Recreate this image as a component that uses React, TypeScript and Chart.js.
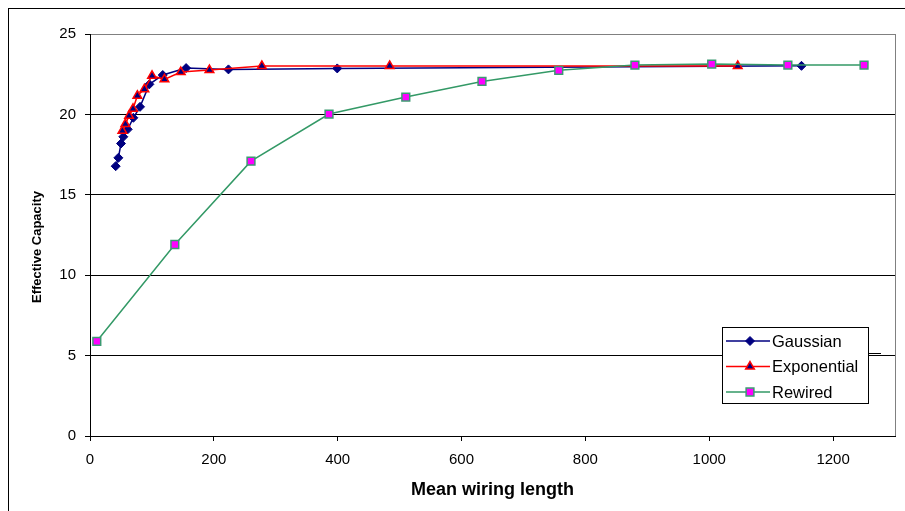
import React, { useEffect, useRef } from 'react';
import { Chart, registerables } from 'chart.js';

Chart.register(...registerables);

// ---- Data ----
const gaussianX = [41.5, 45.8, 50.1, 53.8, 60.9, 70.0, 80.8, 95.9, 117.5, 155.2, 223.6, 399.3, 1149];
const gaussianY = [16.78, 17.3, 18.19, 18.61, 19.07, 19.79, 20.47, 21.87, 22.45, 22.88, 22.8, 22.86, 23.02];

const exponentialX = [52.3, 57.1, 63.1, 69.5, 76.5, 87.8, 100.2, 120.2, 146.6, 192.9, 277.5, 483.9, 1046];
const exponentialY = [18.98, 19.4, 19.91, 20.35, 21.16, 21.57, 22.4, 22.18, 22.63, 22.76, 23.01, 23.01, 23.01];

const rewiredX = [11, 137, 260, 386, 510, 633, 757, 880, 1004, 1127, 1250];
const rewiredY = [5.89, 11.91, 17.09, 20.02, 21.08, 22.05, 22.74, 23.07, 23.13, 23.07, 23.07];

const seriesNames = ['Gaussian', 'Exponential', 'Rewired'];
const xTickValues = [0, 200, 400, 600, 800, 1000, 1200];
const yTickValues = [0, 5, 10, 15, 20, 25];
const xTitle = 'Mean wiring length';
const yTitle = 'Effective Capacity';

const FONT = '"Liberation Sans", Arial, Helvetica, sans-serif';

const toPoints = (xs: number[], ys: number[]) => xs.map((x, i) => ({ x, y: ys[i] }));

function drawMarker(
  ctx: CanvasRenderingContext2D,
  style: string,
  x: number,
  y: number,
  r: number,
  fill: string,
  stroke: string,
  lw: number
) {
  ctx.beginPath();
  if (style === 'rectRot') {
    ctx.moveTo(x - r, y);
    ctx.lineTo(x, y - r);
    ctx.lineTo(x + r, y);
    ctx.lineTo(x, y + r);
  } else if (style === 'triangle') {
    let a = 0;
    ctx.moveTo(x + Math.sin(a) * r, y - Math.cos(a) * r);
    a += (2 * Math.PI) / 3;
    ctx.lineTo(x + Math.sin(a) * r, y - Math.cos(a) * r);
    a += (2 * Math.PI) / 3;
    ctx.lineTo(x + Math.sin(a) * r, y - Math.cos(a) * r);
  } else {
    const s = Math.SQRT1_2 * r;
    ctx.rect(x - s, y - s, 2 * s, 2 * s);
  }
  ctx.closePath();
  ctx.fillStyle = fill;
  ctx.fill();
  ctx.strokeStyle = stroke;
  ctx.lineWidth = lw;
  ctx.stroke();
}

const boxLegendPlugin = {
  id: 'boxLegend',
  afterDraw(chart: any) {
    const ctx: CanvasRenderingContext2D = chart.ctx;
    const area = chart.chartArea;
    ctx.save();
    // plot-area border on the right (gray)
    ctx.strokeStyle = '#808080';
    ctx.lineWidth = 1;
    ctx.beginPath();
    const rx = Math.round(area.right) + 0.5;
    ctx.moveTo(rx, area.top);
    ctx.lineTo(rx, area.bottom);
    ctx.stroke();

    // y-axis title (drawn manually to match its position)
    ctx.save();
    ctx.translate(28, 238);
    ctx.rotate(-Math.PI / 2);
    ctx.fillStyle = '#000';
    ctx.font = `bold 13px ${FONT}`;
    ctx.textAlign = 'center';
    ctx.textBaseline = 'middle';
    ctx.fillText(yTitle, 0, 0);
    ctx.restore();

    const bx = 713;
    const by = 318;
    const bw = 146;
    const bh = 76;
    ctx.fillStyle = '#ffffff';
    ctx.fillRect(bx, by, bw, bh);
    ctx.strokeStyle = '#000000';
    ctx.lineWidth = 1;
    ctx.strokeRect(bx + 0.5, by + 0.5, bw, bh);
    // small stub line right of the legend box
    ctx.beginPath();
    ctx.moveTo(bx + bw + 1, 344.5);
    ctx.lineTo(bx + bw + 13, 344.5);
    ctx.stroke();

    const rowY = [332, 357.5, 383];
    chart.data.datasets.forEach((ds: any, i: number) => {
      const y = rowY[i];
      ctx.strokeStyle = ds.borderColor;
      ctx.lineWidth = ds.borderWidth;
      ctx.beginPath();
      ctx.moveTo(bx + 4, y);
      ctx.lineTo(bx + 48, y);
      ctx.stroke();
      drawMarker(ctx, ds.pointStyle, bx + 28, y, ds.pointRadius, ds.pointBackgroundColor, ds.pointBorderColor, ds.pointBorderWidth);
      ctx.fillStyle = '#000';
      ctx.font = `16.5px ${FONT}`;
      ctx.textBaseline = 'middle';
      ctx.textAlign = 'left';
      ctx.fillText(ds.label, bx + 50, y + 1);
    });
    ctx.restore();
  },
};

export default function App() {
  const canvasRef = useRef<HTMLCanvasElement | null>(null);

  useEffect(() => {
    if (!canvasRef.current) return;
    const chart = new Chart(canvasRef.current, {
      type: 'scatter',
      data: {
        datasets: [
          {
            label: seriesNames[0],
            data: toPoints(gaussianX, gaussianY),
            showLine: true,
            borderColor: '#000080',
            borderWidth: 1.5,
            pointStyle: 'rectRot',
            pointRadius: 4.5,
            pointBackgroundColor: '#000080',
            pointBorderColor: '#000080',
            pointBorderWidth: 1,
            order: 3,
          },
          {
            label: seriesNames[1],
            data: toPoints(exponentialX, exponentialY),
            showLine: true,
            borderColor: '#ff0000',
            borderWidth: 1.5,
            pointStyle: 'triangle',
            pointRadius: 5,
            pointBackgroundColor: '#000080',
            pointBorderColor: '#ff0000',
            pointBorderWidth: 1.5,
            order: 2,
          },
          {
            label: seriesNames[2],
            data: toPoints(rewiredX, rewiredY),
            showLine: true,
            borderColor: '#339966',
            borderWidth: 1.5,
            pointStyle: 'rect',
            pointRadius: 5.5,
            pointBackgroundColor: '#ff00ff',
            pointBorderColor: '#3c9a72',
            pointBorderWidth: 1.5,
            order: 1,
          },
        ] as any,
      },
      options: {
        animation: false,
        responsive: false,
        layout: { padding: { top: 25, right: 10, left: 0, bottom: 0 } },
        plugins: {
          legend: { display: false },
          tooltip: { enabled: false },
        },
        scales: {
          x: {
            type: 'linear',
            min: 0,
            max: 1300,
            afterBuildTicks: (s: any) => {
              s.ticks = xTickValues.map((v) => ({ value: v }));
            },
            afterFit: (s: any) => {
              s.height = 75;
            },
            grid: { drawOnChartArea: false, drawTicks: true, tickLength: 5, color: '#000' },
            border: { color: '#000', width: 1 },
            ticks: {
              font: { family: FONT, size: 15 },
              color: '#000',
              padding: 10,
              maxRotation: 0,
              autoSkip: false,
              callback: (v: any) => String(v),
            },
            title: {
              display: true,
              text: xTitle,
              font: { family: FONT, size: 18, weight: 'bold' },
              color: '#000',
              padding: { top: 4, bottom: 10 },
            },
          },
          y: {
            type: 'linear',
            min: 0,
            max: 25,
            afterBuildTicks: (s: any) => {
              s.ticks = yTickValues.map((v) => ({ value: v }));
            },
            afterFit: (s: any) => {
              s.width = 81;
            },
            grid: {
              color: (c: any) => (c.tick && c.tick.value === 25 ? '#808080' : '#000'),
              tickColor: '#000',
              tickLength: 5,
            },
            border: { color: '#000', width: 1 },
            ticks: {
              font: { family: FONT, size: 15 },
              color: '#000',
              padding: 9,
              callback: (v: any) => String(v),
            },
            title: { display: false },
          },
        },
      } as any,
      plugins: [boxLegendPlugin],
    });
    return () => chart.destroy();
  }, []);

  return (
    <div
      style={{
        position: 'fixed',
        left: 8,
        top: 8,
        width: 897,
        height: 503,
        borderTop: '1px solid #000',
        borderLeft: '1px solid #000',
        boxSizing: 'border-box',
        background: '#fff',
      }}
    >
      <canvas ref={canvasRef} width={896} height={502} style={{ display: 'block' }} />
    </div>
  );
}
